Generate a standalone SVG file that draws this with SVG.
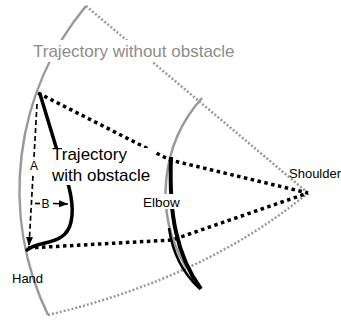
<svg xmlns="http://www.w3.org/2000/svg" width="341" height="320" viewBox="0 0 341 320">
<style>
.gray{fill:none;stroke:#999;stroke-width:2.5}
.gdot{fill:none;stroke:#999;stroke-width:2.5;stroke-dasharray:2 2}
.bdot{fill:none;stroke:#000;stroke-width:3.5;stroke-dasharray:3.5 3.5}
.thick{fill:none;stroke:#000;stroke-width:3.5;stroke-linecap:round}
.dash{fill:none;stroke:#000;stroke-width:1.7;stroke-dasharray:5 3}
.bg{fill:#fff}
text{font-family:"Liberation Sans",Arial,sans-serif}
.lbl{font-size:13px;fill:#000}
.big{font-size:17px}
</style>
<defs>
<marker id="ah" markerUnits="userSpaceOnUse" markerWidth="10" markerHeight="8" refX="9" refY="3.5" orient="auto">
<path d="M0,0 L9,3.5 L0,7 z" fill="#000" stroke="none"/>
</marker>
</defs>
<rect width="341" height="320" fill="#fff"/>
<g id="connectors">
<path class="gray" d="M86,6 A288,288 0 0 0 48,315"/>
<path class="gdot" d="M86,6 L308,193"/>
<path class="gdot" d="M48,315 Q205,278 308,193"/>
<path class="gray" d="M202,98 A143,143 0 0 0 186,267"/>
<path class="bdot" d="M38,93 L170,160 L308,193"/>
<path class="bdot" d="M28,248 L172,240 L308,193"/>
<path class="thick" d="M40,94 L60,160 C68,180 75,205 71,222 C68,236 58,240 45,243 C36,245 30,247 27,250"/>
<path fill="none" stroke="#000" stroke-width="4" d="M171,157 C170,185 172,215 176,232 C181,255 190,274 201,289"/>
<path fill="none" stroke="#000" stroke-width="2.5" d="M169,228 C172,250 182,272 199,288"/>
<path class="dash" d="M37,104 L29,246" marker-end="url(#ah)"/>
<path fill="none" stroke="#000" stroke-width="1.7" d="M35,203.5 L40,203.5"/>
<path fill="none" stroke="#000" stroke-width="1.7" d="M53,203.5 L68,204" marker-end="url(#ah)"/>
</g>
<g id="title">
<rect class="bg" x="31" y="40" width="209" height="22"/>
<text class="big" x="33" y="57" fill="#8c8c8c">Trajectory without obstacle</text>
</g>
<g id="obstacle-label">
<rect class="bg" x="50" y="148" width="104" height="37"/>
<text class="big" x="52" y="160" fill="#000">Trajectory</text>
<text class="big" x="52" y="181" fill="#000">with obstacle</text>
</g>
<g id="elbow">
<rect class="bg" x="142" y="194" width="40" height="15"/>
<text class="lbl" x="143" y="207" style="font-size:13.5px">Elbow</text>
</g>
<g id="shoulder">
<text class="lbl" x="289" y="178">Shoulder</text>
</g>
<g id="hand">
<text class="lbl" x="12" y="282.5">Hand</text>
</g>
<g id="labelA">
<rect class="bg" x="29" y="160" width="9" height="13"/>
<text class="lbl" x="30" y="170" style="font-size:12px">A</text>
</g>
<g id="labelB">
<text class="lbl" x="41.5" y="208" style="font-size:12px">B</text>
</g>
</svg>
